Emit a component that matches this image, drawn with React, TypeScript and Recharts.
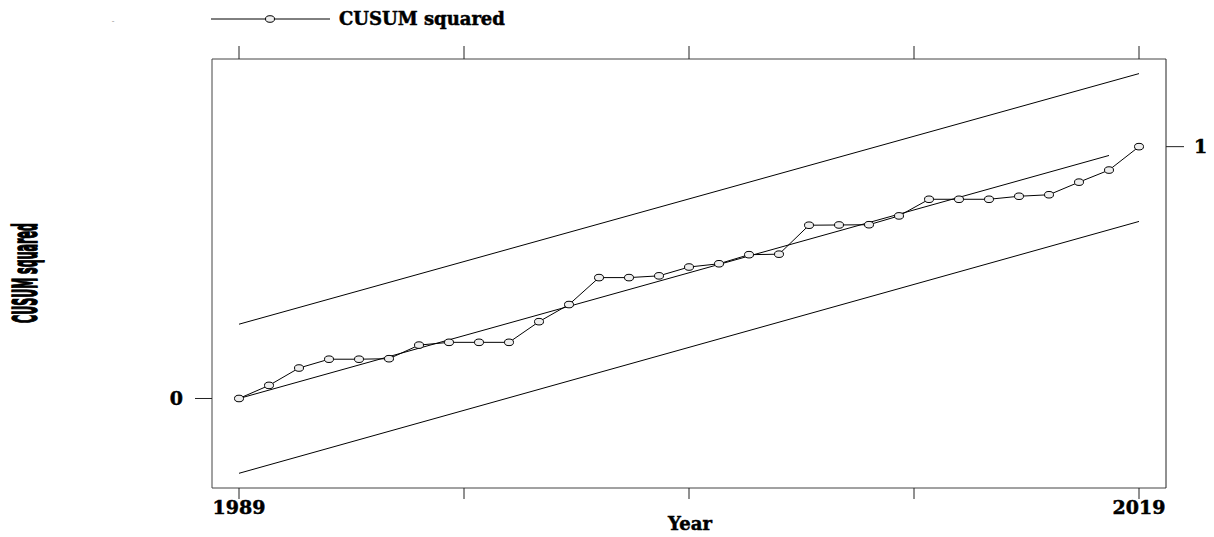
import React from 'react';
import { ComposedChart, Line, XAxis, YAxis } from 'recharts';

const years = [1989, 1990, 1991, 1992, 1993, 1994, 1995, 1996, 1997, 1998, 1999, 2000, 2001, 2002, 2003, 2004, 2005, 2006, 2007, 2008, 2009, 2010, 2011, 2012, 2013, 2014, 2015, 2016, 2017, 2018, 2019];
const cusumSq = [0, 0.052, 0.121, 0.156, 0.156, 0.158, 0.212, 0.223, 0.223, 0.223, 0.305, 0.373, 0.48, 0.48, 0.487, 0.522, 0.535, 0.571, 0.573, 0.688, 0.689, 0.69, 0.725, 0.791, 0.791, 0.791, 0.803, 0.809, 0.859, 0.907, 1.0];
const expectedYears = [1989, 2018];
const expectedVals = [0, 0.965];
const boundYears = [1989, 2019];
const upperVals = [0.295, 1.29];
const lowerVals = [-0.297, 0.703];
const xTicks = [1989, 1996.5, 2004, 2011.5, 2019];
const xLabels = [1989, 2019];

const data = years.map((y, i) => {
  const ei = expectedYears.indexOf(y);
  const bi = boundYears.indexOf(y);
  return {
    year: y,
    cusum: cusumSq[i],
    expected: ei >= 0 ? expectedVals[ei] : null,
    upper: bi >= 0 ? upperVals[bi] : null,
    lower: bi >= 0 ? lowerVals[bi] : null,
  };
});

const serif = "'DejaVu Serif', 'Liberation Serif', serif";
const tickStyle = { fill: '#000', fontSize: 19, fontWeight: 'bold', fontFamily: serif, stroke: '#000', strokeWidth: 0.5 } as any;
const yDomain = [-0.3554, 1.348];

const Dot = (props: any) => {
  if (props.cx == null || props.cy == null) return null;
  return <ellipse key={props.key} cx={props.cx} cy={props.cy} rx={4.5} ry={3.3} fill="#eeeeee" stroke="#000" strokeWidth={1} />;
};

export default function App() {
  return (
    <div style={{ position: 'absolute', left: 0, top: 0, width: 1214, height: 537, background: '#fff' }}>
      <ComposedChart width={1214} height={537} data={data} margin={{ top: 39, right: 8, bottom: 9, left: 152 }}>
        <XAxis xAxisId="b" dataKey="year" type="number" orientation="bottom" height={40}
          domain={[1988.1, 2019.9]} allowDataOverflow ticks={xTicks} interval={0}
          tickFormatter={(v: number) => (xLabels.includes(v) ? String(v) : '')}
          tick={tickStyle} tickSize={11} tickMargin={2}
          axisLine={{ stroke: '#444' }} tickLine={{ stroke: '#222' }} />
        <XAxis xAxisId="t" dataKey="year" type="number" orientation="top" height={20}
          domain={[1988.1, 2019.9]} allowDataOverflow ticks={xTicks} interval={0}
          tickFormatter={() => ''} tickSize={13}
          axisLine={{ stroke: '#444' }} tickLine={{ stroke: '#222' }} />
        <YAxis yAxisId="l" orientation="left" width={60} type="number" domain={yDomain} allowDataOverflow
          ticks={[0]} interval={0} tick={tickStyle} tickSize={17} tickMargin={12}
          axisLine={{ stroke: '#444' }} tickLine={{ stroke: '#222' }} />
        <YAxis yAxisId="r" orientation="right" width={40} type="number" domain={yDomain} allowDataOverflow
          ticks={[1]} interval={0} tick={tickStyle} tickSize={18} tickMargin={10}
          axisLine={{ stroke: '#222' }} tickLine={{ stroke: '#222' }} />
        <Line xAxisId="b" yAxisId="l" dataKey="upper" type="linear" stroke="#000" strokeWidth={1} dot={false} connectNulls isAnimationActive={false} />
        <Line xAxisId="b" yAxisId="l" dataKey="lower" type="linear" stroke="#000" strokeWidth={1} dot={false} connectNulls isAnimationActive={false} />
        <Line xAxisId="b" yAxisId="l" dataKey="expected" type="linear" stroke="#000" strokeWidth={1} dot={false} connectNulls isAnimationActive={false} />
        <Line xAxisId="b" yAxisId="l" dataKey="cusum" type="linear" stroke="#000" strokeWidth={1} dot={<Dot />} activeDot={false} isAnimationActive={false} />
        <text x={690} y={530} textAnchor="middle" fontSize={18} fontWeight="bold" fontFamily={serif} fill="#000" stroke="#000" strokeWidth={0.5}>Year</text>
        <text transform="translate(37,273) rotate(-90)" textAnchor="middle" fontSize={33} fontWeight="bold"
          fontFamily="'DejaVu Sans Condensed', 'DejaVu Sans', sans-serif" fill="#000" stroke="#000" strokeWidth={1.6}
          textLength={100} lengthAdjust="spacingAndGlyphs">CUSUM squared</text>
        <line x1={211} x2={330} y1={19} y2={19} stroke="#000" strokeWidth={1} />
        <ellipse cx={270} cy={19} rx={4.5} ry={3.3} fill="#eeeeee" stroke="#000" strokeWidth={1} />
        <text x={339} y={25} fontSize={18} fontWeight="bold" fontFamily={serif} fill="#000" stroke="#000" strokeWidth={0.5}>CUSUM squared</text>
        <text x={113} y={24} fontSize={8} fill="#999" textAnchor="middle">-</text>
      </ComposedChart>
    </div>
  );
}
